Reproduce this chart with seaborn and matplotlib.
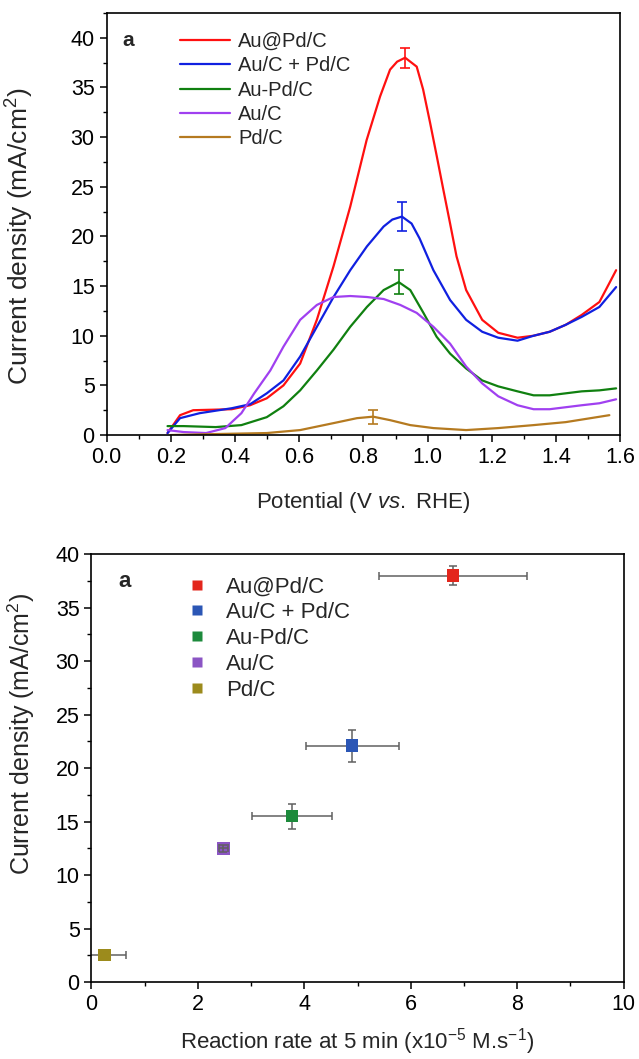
import numpy as np
import pandas as pd
import matplotlib
matplotlib.use("Agg")
import matplotlib.pyplot as plt
from matplotlib.ticker import MultipleLocator
import seaborn as sns

sns.set_style("ticks")
plt.rcParams['font.family'] = ['Liberation Sans', 'DejaVu Sans']
plt.rcParams['mathtext.fontset'] = 'custom'
plt.rcParams['mathtext.rm'] = 'Liberation Sans'
plt.rcParams['mathtext.it'] = 'Liberation Sans:italic'

# --- panel 1: LSV curves ---
v_red = [0.19, 0.229, 0.27, 0.39, 0.447, 0.499, 0.551, 0.603, 0.655, 0.707, 0.759, 0.81, 0.852,
         0.883, 0.905, 0.93, 0.966, 0.986, 1.008, 1.029, 1.049, 1.07, 1.09, 1.12, 1.17, 1.22,
         1.28, 1.33, 1.38, 1.43, 1.48, 1.535, 1.566, 1.587]
j_red = [0.2, 2.0, 2.5, 2.6, 3.0, 3.7, 5.0, 7.2, 11.6, 17.0, 23.0, 29.7, 34.1,
         36.8, 37.6, 38.0, 37.1, 34.8, 31.4, 28.0, 24.7, 21.3, 18.0, 14.6, 11.6, 10.3,
         9.8, 10.0, 10.4, 11.1, 12.1, 13.4, 15.3, 16.6]
v_blue = [0.19, 0.229, 0.29, 0.39, 0.447, 0.499, 0.551, 0.603, 0.655, 0.707, 0.759, 0.811, 0.863,
          0.89, 0.92, 0.95, 0.975, 1.018, 1.07, 1.12, 1.17, 1.22, 1.28, 1.33, 1.38, 1.43, 1.48,
          1.535, 1.587]
j_blue = [0.2, 1.7, 2.2, 2.7, 3.1, 4.2, 5.5, 7.9, 10.9, 13.9, 16.6, 19.0, 21.0,
          21.7, 22.0, 21.3, 19.8, 16.6, 13.6, 11.6, 10.4, 9.8, 9.5, 10.0, 10.4, 11.1, 11.9,
          12.9, 14.9]
v_green = [0.19, 0.24, 0.34, 0.42, 0.499, 0.551, 0.603, 0.655, 0.707, 0.759, 0.811, 0.863, 0.91,
           0.946, 0.987, 1.028, 1.07, 1.12, 1.17, 1.22, 1.28, 1.33, 1.38, 1.43, 1.48, 1.535, 1.587]
j_green = [0.9, 0.9, 0.8, 1.0, 1.8, 2.9, 4.5, 6.5, 8.6, 10.9, 12.9, 14.6, 15.4,
           14.6, 12.3, 9.9, 8.2, 6.7, 5.5, 4.9, 4.4, 4.0, 4.0, 4.2, 4.4, 4.5, 4.7]
v_purple = [0.19, 0.24, 0.31, 0.37, 0.42, 0.46, 0.51, 0.551, 0.603, 0.655, 0.707, 0.759, 0.811,
            0.863, 0.915, 0.966, 1.018, 1.07, 1.12, 1.17, 1.22, 1.28, 1.33, 1.38, 1.43, 1.48,
            1.535, 1.587]
j_purple = [0.5, 0.3, 0.2, 0.7, 2.2, 4.2, 6.5, 8.9, 11.6, 13.1, 13.9, 14.0, 13.9,
            13.7, 13.1, 12.3, 10.9, 9.2, 6.9, 5.2, 3.9, 3.0, 2.6, 2.6, 2.8, 3.0,
            3.2, 3.6]
v_brown = [0.2, 0.34, 0.499, 0.603, 0.707, 0.78, 0.83, 0.883, 0.946, 1.018, 1.12, 1.22, 1.33,
           1.43, 1.566]
j_brown = [0.0, 0.1, 0.2, 0.5, 1.2, 1.7, 1.85, 1.5, 1.0, 0.7, 0.5, 0.7, 1.0,
           1.3, 2.0]

catalysts = ['Au@Pd/C', 'Au/C + Pd/C', 'Au-Pd/C', 'Au/C', 'Pd/C']
line_colors = ['#ff1010', '#1020e0', '#108010', '#a040f0', '#b57a20']

# error bars at peaks
peak_v = [0.93, 0.92, 0.91, 0.83]
peak_j = [38.0, 22.0, 15.4, 1.85]
peak_err = [1.0, 1.5, 1.2, 0.7]
peak_colors = ['#ff1010', '#1020e0', '#108010', '#b57a20']

# --- panel 2: current density vs reaction rate ---
rate = [6.79, 4.9, 3.77, 2.48, 0.25]
rate_err = [1.39, 0.87, 0.75, 0.08, 0.4]
dens = [38.0, 22.1, 15.5, 12.5, 2.5]
dens_err = [0.9, 1.5, 1.15, 0.3, 0.4]
marker_colors = ['#e3261c', '#2b56b5', '#1d8a3c', '#8b55c4', '#9c8b1c']

curves = pd.concat([
    pd.DataFrame({'V': v, 'j': j, 'cat': c})
    for v, j, c in zip([v_red, v_blue, v_green, v_purple, v_brown],
                       [j_red, j_blue, j_green, j_purple, j_brown], catalysts)
], ignore_index=True)
points = pd.DataFrame({'rate': rate, 'dens': dens, 'cat': catalysts})

fig = plt.figure(figsize=(6.39, 10.59), dpi=100)
ax1 = fig.add_axes([0.1667, 0.5892, 0.804, 0.3985])
ax2 = fig.add_axes([0.143, 0.0727, 0.833, 0.404])

sns.lineplot(data=curves, x='V', y='j', hue='cat', palette=line_colors, sort=False,
             estimator=None, linewidth=1.6, ax=ax1)
for v, j, e, c in zip(peak_v, peak_j, peak_err, peak_colors):
    ax1.errorbar(v, j, yerr=e, color=c, capsize=3.5, elinewidth=1.2, capthick=1.2, fmt='none')
ax1.set_xlim(0, 1.6)
ax1.set_ylim(0, 42.5)
ax1.xaxis.set_minor_locator(MultipleLocator(0.1))
ax1.yaxis.set_major_locator(MultipleLocator(5))
ax1.yaxis.set_minor_locator(MultipleLocator(2.5))
ax1.set_xticks(np.arange(0, 1.61, 0.2))
ax1.set_xticklabels([f'{t:.1f}' for t in np.arange(0, 1.61, 0.2)])
ax1.set_xlabel(r'Potential (V $\mathit{vs.}$ RHE)', fontsize=16, labelpad=16)
ax1.set_ylabel(r'Current density (mA/cm$^2$)', fontsize=19)
ax1.yaxis.set_label_coords(-0.137, 0.47)
ax1.text(0.03, 0.935, 'a', transform=ax1.transAxes, fontsize=15, fontweight='bold', va='center')
ax1.legend(loc='upper left', bbox_to_anchor=(0.105, 1.0), frameon=False, fontsize=14.5,
           handlelength=2.5, handletextpad=0.4, labelspacing=0.26, borderaxespad=0.55)

for i, c in enumerate(catalysts):
    ax2.errorbar(rate[i], dens[i], xerr=rate_err[i], yerr=dens_err[i], fmt='none',
                 ecolor='#606060', elinewidth=1.1, capsize=3, capthick=1.1,
                 zorder=4 if rate_err[i] < 0.2 else 2)
sns.scatterplot(data=points, x='rate', y='dens', hue='cat', palette=marker_colors, marker='s',
                s=80, edgecolor='none', ax=ax2, zorder=3)
ax2.set_xlim(0, 10)
ax2.set_ylim(0, 40)
ax2.xaxis.set_major_locator(MultipleLocator(2))
ax2.xaxis.set_minor_locator(MultipleLocator(1))
ax2.yaxis.set_major_locator(MultipleLocator(5))
ax2.yaxis.set_minor_locator(MultipleLocator(2.5))
ax2.set_xlabel(r'Reaction rate at 5 min (x10$^{-5}$ M.s$^{-1}$)', fontsize=16, labelpad=8)
ax2.set_ylabel(r'Current density (mA/cm$^2$)', fontsize=18)
ax2.yaxis.set_label_coords(-0.102, 0.58)
ax2.text(0.05, 0.935, 'a', transform=ax2.transAxes, fontsize=16, fontweight='bold', va='center')
ax2.legend(loc='upper left', bbox_to_anchor=(0.12, 0.995), frameon=False, fontsize=16,
           handletextpad=0.3, labelspacing=0.22, markerscale=0.8)

for ax in (ax1, ax2):
    for s in ax.spines.values():
        s.set_color('black')
        s.set_linewidth(1.2)
    ax.tick_params(which='both', direction='out', colors='black', labelsize=15.5)
    ax.tick_params(which='major', length=5, width=1.1)
    ax.tick_params(which='minor', length=3, width=1.0)

fig.savefig('out.png', dpi=100)
